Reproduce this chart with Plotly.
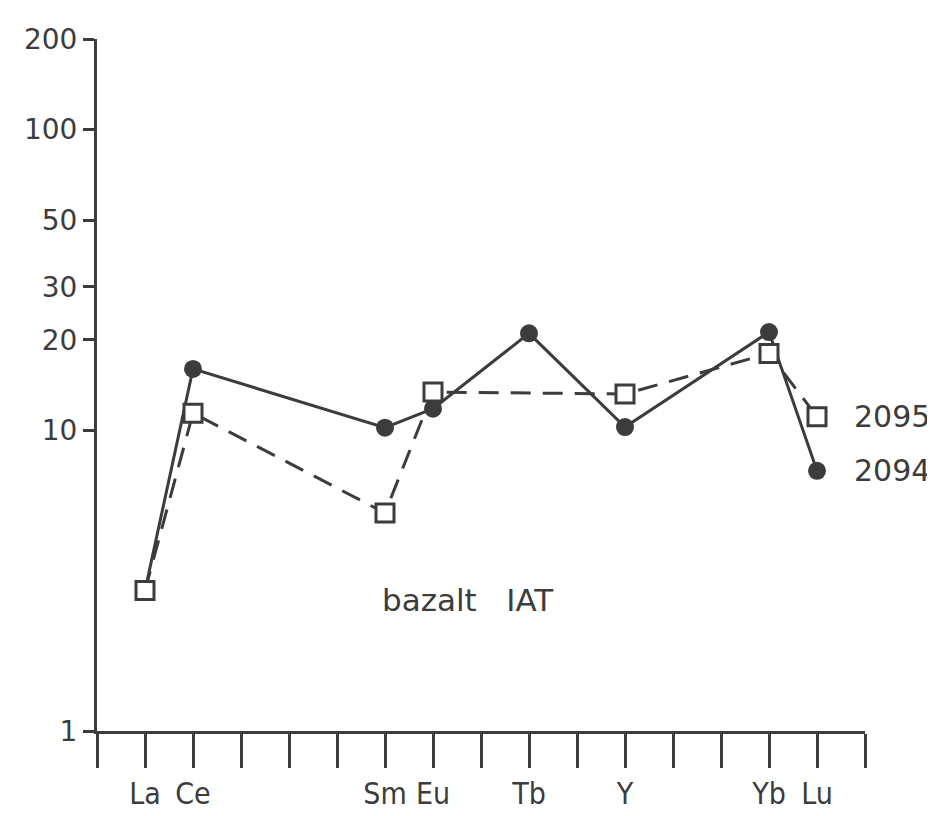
import math
import plotly.graph_objects as go

# element slots (La=1 ... Lu=15), axis spans 0..16
tick_positions = list(range(0, 17))
tick_labels = {1: "La", 2: "Ce", 6: "Sm", 7: "Eu", 9: "Tb", 11: "Y", 14: "Yb", 15: "Lu"}

# sample 2094 (filled circles, solid line)
x_2094 = [1, 2, 6, 7, 9, 11, 14, 15]
y_2094 = [2.93, 16.0, 10.2, 11.8, 21.0, 10.25, 21.2, 7.33]

# sample 2095 (open squares, dashed line)
x_2095 = [1, 2, 6, 7, 11, 14, 15]
y_2095 = [2.93, 11.4, 5.31, 13.4, 13.2, 18.0, 11.1]

y_ticks = [1, 10, 20, 30, 50, 100, 200]

INK = "#3c3c3c"
FONT = "DejaVu Sans"
FONT_C = "DejaVu Sans Condensed, DejaVu Sans"

fig = go.Figure()
fig.add_trace(go.Scatter(
    x=x_2094, y=y_2094, mode="lines+markers", name="2094",
    line=dict(color=INK, width=3),
    marker=dict(symbol="circle", size=18, color=INK),
))
fig.add_trace(go.Scatter(
    x=x_2095, y=y_2095, mode="lines+markers", name="2095",
    line=dict(color=INK, width=3, dash="20px,12px"),
    marker=dict(symbol="square", size=18, color="white",
                line=dict(color=INK, width=3)),
))

fig.add_annotation(x=15.72, y=math.log10(y_2095[-1]), xref="x", yref="y",
                   text="2095", showarrow=False, xanchor="left",
                   font=dict(family=FONT, size=30, color=INK))
fig.add_annotation(x=15.72, y=math.log10(y_2094[-1]), xref="x", yref="y",
                   text="2094", showarrow=False, xanchor="left",
                   font=dict(family=FONT, size=30, color=INK))
fig.add_annotation(x=7.73, y=math.log10(2.72), xref="x", yref="y",
                   text="bazalt&nbsp;&nbsp;&nbsp;IAT", showarrow=False,
                   font=dict(family=FONT, size=31, color=INK))

fig.update_xaxes(
    range=[0, 16], showgrid=False, zeroline=False, automargin=False,
    showline=True, linecolor=INK, linewidth=3,
    tickmode="array", tickvals=tick_positions,
    ticktext=[tick_labels.get(p, "") for p in tick_positions],
    ticks="outside", ticklen=34, tickwidth=3, tickcolor=INK,
    ticklabelstandoff=0,
    tickfont=dict(family=FONT_C, size=30, color=INK),
)
fig.update_yaxes(
    type="log", range=[0, math.log10(200)], showgrid=False, zeroline=False,
    automargin=False,
    showline=True, linecolor=INK, linewidth=3,
    tickmode="array", tickvals=y_ticks, ticktext=[str(v) for v in y_ticks],
    ticks="outside", ticklen=11, tickwidth=3, tickcolor=INK,
    ticklabelstandoff=0,
    tickfont=dict(family=FONT, size=28, color=INK),
)

fig.update_layout(
    width=927, height=808,
    margin=dict(l=89, r=70, t=31, b=85),
    paper_bgcolor="white", plot_bgcolor="white",
    showlegend=False,
)

fig.write_html("out.html")
